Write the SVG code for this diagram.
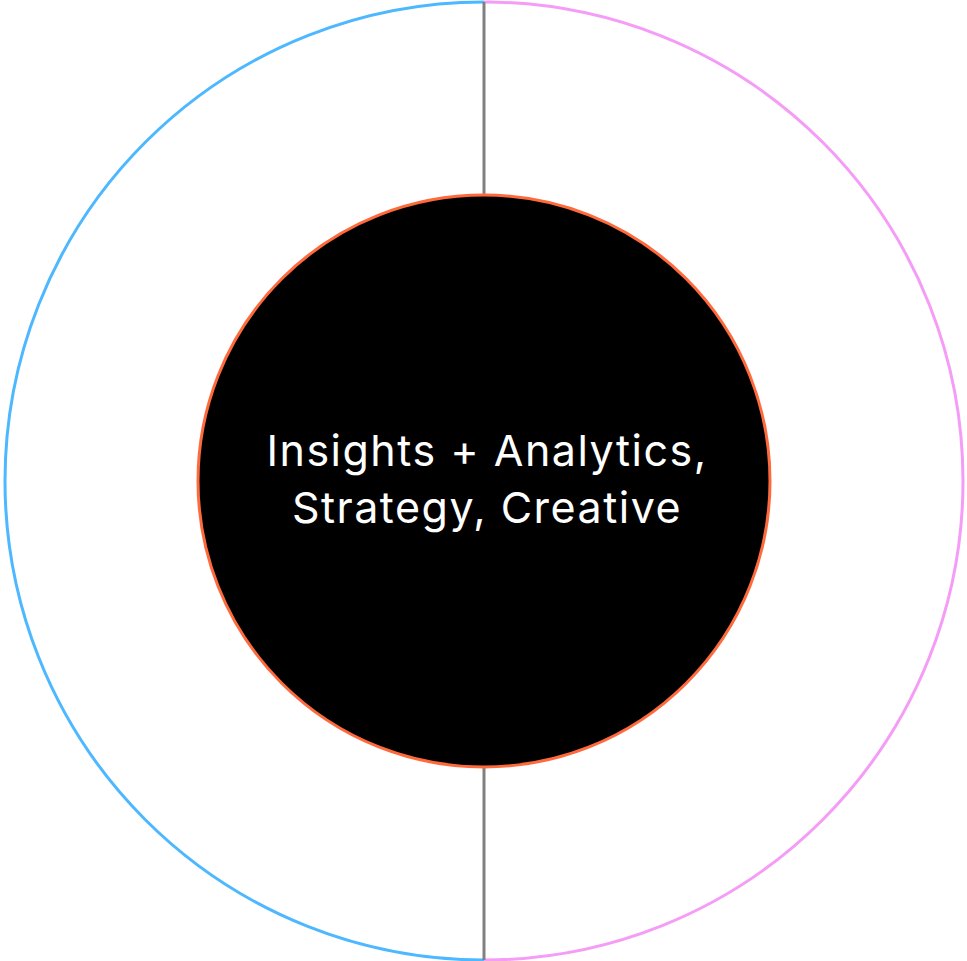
<svg xmlns="http://www.w3.org/2000/svg" width="967" height="961" viewBox="0 0 967 961">
<style>
.lbl{font-family:Inter,"Open Sans","Liberation Sans",sans-serif;font-size:43px;letter-spacing:1.5px;fill:#ffffff;text-anchor:middle}
</style>
<rect width="967" height="961" fill="#ffffff"/>
<g id="outer">
<path d="M484 2 A479 479 0 0 0 484 960" fill="none" stroke="#4db8ff" stroke-width="3"/>
<path d="M484 2 A479 479 0 0 1 484 960" fill="none" stroke="#f59cf6" stroke-width="3"/>
</g>
<g id="connectors">
<line x1="484" y1="2" x2="484" y2="196" stroke="#808080" stroke-width="3"/>
<line x1="484" y1="766" x2="484" y2="960" stroke="#808080" stroke-width="3"/>
</g>
<g id="core">
<circle cx="484" cy="481" r="286" fill="#000000" stroke="#ff6a3d" stroke-width="3"/>
<text class="lbl" x="487" y="466">Insights + Analytics,</text>
<text class="lbl" x="487" y="523">Strategy, Creative</text>
</g>
</svg>
